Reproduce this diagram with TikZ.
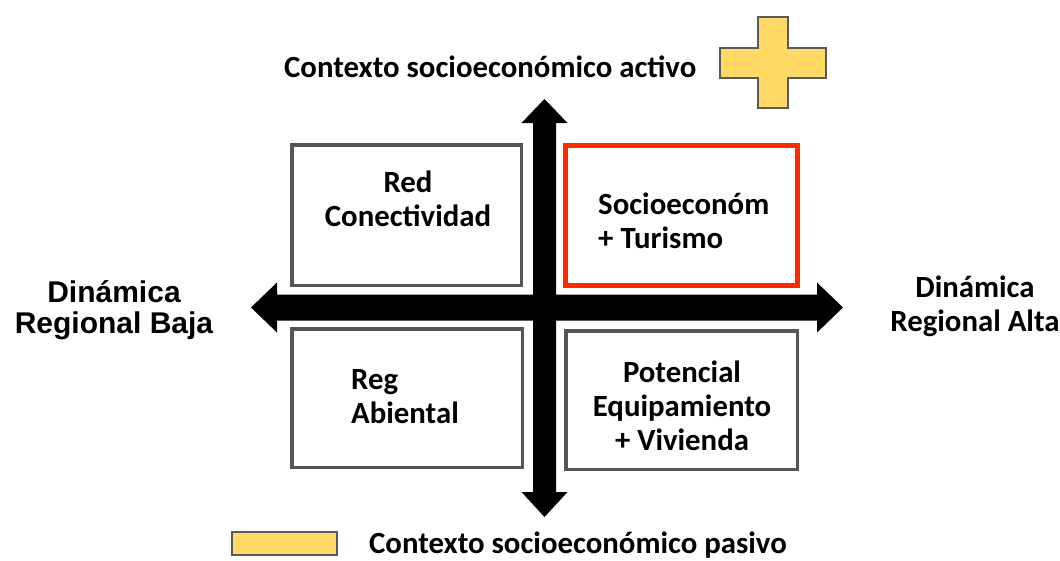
\documentclass[tikz,border=0pt]{standalone}
\usepackage{fontspec}
\newfontfamily\calfont{Carlito}
\newfontfamily\arialfont{Liberation Sans}
\definecolor{boxgray}{HTML}{555555}
\definecolor{boxred}{HTML}{FF2A00}
\definecolor{legyellow}{HTML}{FFD966}
\definecolor{legborder}{HTML}{5A5A5A}
\tikzset{
  quad/.style={draw=boxgray, line width=3.5pt, fill=white, inner sep=0pt},
  quadred/.style={draw=boxred, line width=5pt, fill=white, inner sep=0pt},
  lbl/.style={font=\calfont\bfseries\fontsize{30.8}{34}\selectfont, inner sep=0pt, text=black},
  albl/.style={font=\arialfont\bfseries\fontsize{30}{31}\selectfont, inner sep=0pt, text=black},
  arrowshape/.style={fill=black, draw=none},
  legend/.style={fill=legyellow, draw=legborder, line width=1.8pt, line join=miter}
}
\begin{document}
\begin{tikzpicture}[x=1pt,y=-1pt]
\useasboundingbox[fill=white] (0,0) rectangle (1060,560);

% quadrant boxes
\node[quad, minimum width=229.5pt, minimum height=140.5pt] (tl) at (406.5,215) {};
\node[quadred, minimum width=232pt, minimum height=140pt] (tr) at (681.5,215.5) {};
\node[quad, minimum width=230.5pt, minimum height=138.5pt] (bl) at (407,398) {};
\node[quad, minimum width=231.5pt, minimum height=138.5pt] (br) at (681.5,400) {};

% axes arrows (block arrows)
\fill[arrowshape] (251,307.5) -- (277,282.5) -- (277,294.5) -- (817,294.5) -- (817,282.5)
  -- (843,307.5) -- (817,332.5) -- (817,320.5) -- (277,320.5) -- (277,332.5) -- cycle;
\fill[arrowshape] (544.5,99) -- (567.5,123) -- (556,123) -- (556,492) -- (567.5,492)
  -- (544.5,517) -- (521.5,492) -- (533,492) -- (533,123) -- (521.5,123) -- cycle;

% quadrant texts
\node[lbl, align=center] (tltext) at (408,199) {Red\\Conectividad};
\node[lbl, align=left, anchor=west] (trtext) at (598,221) {Socioeconóm\\+ Turismo};
\node[lbl, align=left, anchor=west] (bltext) at (351,396.5) {Reg\\Abiental};
\node[lbl, align=center] (brtext) at (682,406) {Potencial\\Equipamiento\\+ Vivienda};

% axis labels
\node[albl, align=center] (low) at (114,310) {Dinámica\\Regional Baja};
\node[lbl, align=center] (high) at (975,306) {Dinámica\\Regional Alta};

% top legend
\node[lbl, anchor=base west] (active) at (284,77) {Contexto socioeconómico activo};
\draw[legend] (758,17) -- (788,17) -- (788,48) -- (826,48) -- (826,78) -- (788,78)
  -- (788,108) -- (758,108) -- (758,78) -- (720,78) -- (720,48) -- (758,48) -- cycle;

% bottom legend
\draw[legend] (232,532) rectangle (337,555);
\node[lbl, anchor=base west] (passive) at (369,553) {Contexto socioeconómico pasivo};
\end{tikzpicture}
\end{document}
